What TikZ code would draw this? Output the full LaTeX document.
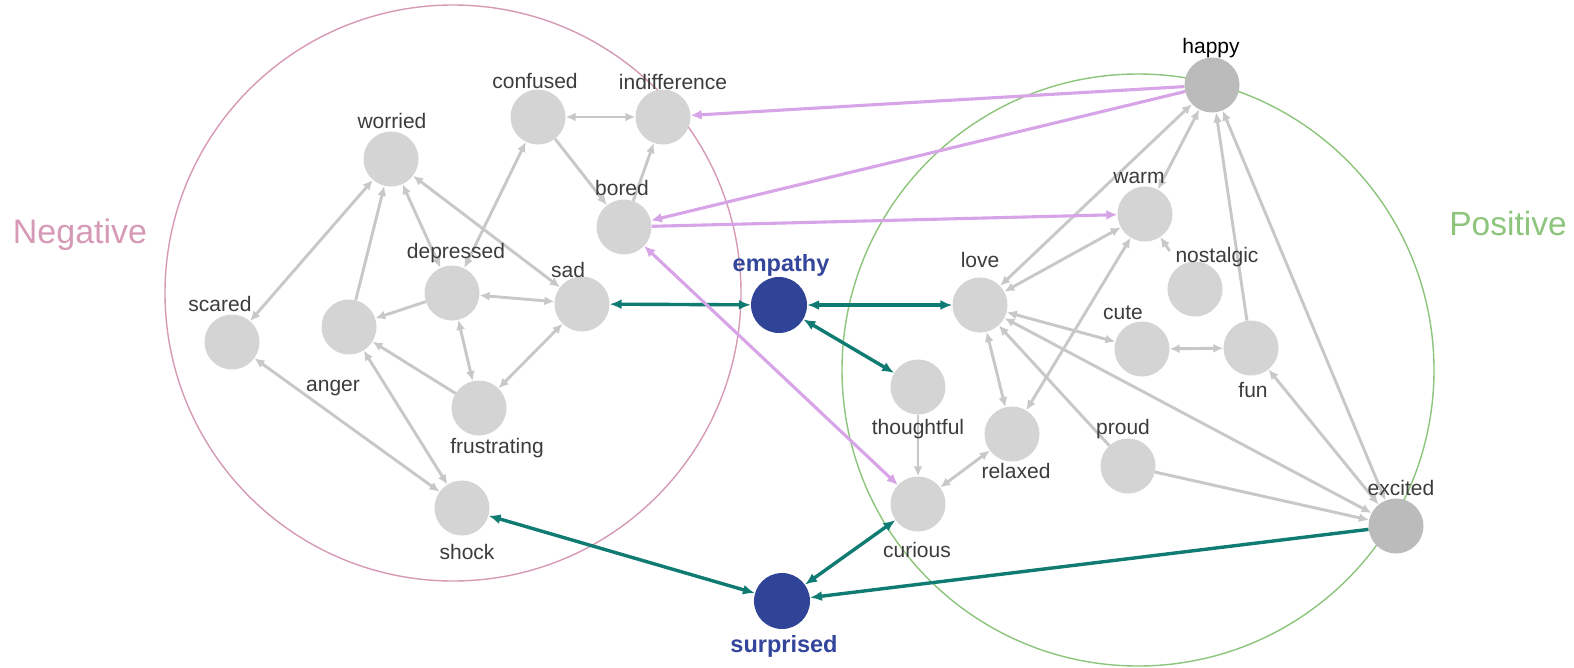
\documentclass[tikz,border=0pt]{standalone}
\usepackage{fontspec}
\setmainfont{Liberation Sans}
\usetikzlibrary{arrows.meta}
\definecolor{nodegray}{HTML}{D4D4D4}
\definecolor{nodedark}{HTML}{BBBBBB}
\definecolor{nodeblue}{HTML}{2F4497}
\definecolor{textblue}{HTML}{34469C}
\definecolor{edgegray}{HTML}{C8C8C8}
\definecolor{edgeteal}{HTML}{0F7B72}
\definecolor{edgeviolet}{HTML}{D7A4E8}
\definecolor{negpink}{HTML}{D69AB6}
\definecolor{posgreen}{HTML}{8CC57B}
\definecolor{lblgray}{HTML}{3C3C3C}
\pgfdeclarelayer{circlesL}
\pgfdeclarelayer{edgesL}
\pgfsetlayers{circlesL,edgesL,main}
\begin{document}
\begin{tikzpicture}[x=1pt,y=-1pt,
  >={Latex[length=10pt,width=9pt]},
  emo/.style={circle,fill=nodegray,minimum size=55pt,inner sep=0pt},
  emodark/.style={emo,fill=nodedark},
  emoblue/.style={circle,fill=nodeblue,minimum size=56pt,inner sep=0pt},
  lbl/.style={anchor=base,font=\fontsize{21}{24}\selectfont,text=lblgray,inner sep=0pt},
  blbl/.style={anchor=base,font=\fontsize{23.5}{26}\selectfont\bfseries,text=textblue,inner sep=0pt},
  ge/.style={draw=edgegray,line width=2.9pt},
  te/.style={draw=edgeteal,line width=3.4pt,>={Latex[length=12pt,width=10pt]}},
  vi/.style={draw=edgeviolet,line width=3.1pt,>={Latex[length=11pt,width=10pt]}},
  group/.style={circle,draw,line width=1.4pt,inner sep=0pt}
]
\useasboundingbox (0,0) rectangle (1574,667);

% group circles
\begin{pgfonlayer}{circlesL}
\fill[white] (0,0) rectangle (1574,667);
\node[group,draw=negpink,minimum size=576pt] (negC) at (453,293) {};
\node[group,draw=posgreen,minimum size=592pt] (posC) at (1138,370) {};
\end{pgfonlayer}
\node[anchor=base,font=\fontsize{34}{38}\selectfont,text=negpink,inner sep=0pt] (negT) at (80,243) {Negative};
\node[anchor=base,font=\fontsize{33.5}{38}\selectfont,text=posgreen,inner sep=0pt] (posT) at (1508,235) {Positive};

% nodes
\node[emodark] (happy) at (1212,85) {};
\node[emo] (confused) at (538,117) {};
\node[emo] (indifference) at (663,117) {};
\node[emo] (worried) at (391,159) {};
\node[emo] (bored) at (624,227) {};
\node[emo] (warm) at (1145,214) {};
\node[emo] (depressed) at (452,293) {};
\node[emo] (sad) at (582,304) {};
\node[emoblue] (empathy) at (779,305) {};
\node[emo] (love) at (980,305) {};
\node[emo] (nostalgic) at (1195,289) {};
\node[emo] (scared) at (232,342) {};
\node[emo] (anger) at (349,327) {};
\node[emo] (cute) at (1142,349) {};
\node[emo] (fun) at (1251,348) {};
\node[emo] (thoughtful) at (918,387) {};
\node[emo] (frustrating) at (479,408) {};
\node[emo] (relaxed) at (1012,434) {};
\node[emo] (proud) at (1128,466) {};
\node[emo] (shock) at (462,508) {};
\node[emo] (curious) at (918,504) {};
\node[emodark] (excited) at (1396,526) {};
\node[emoblue] (surprised) at (782,601) {};

% labels
\node[lbl,text=black] (l-happy) at (1211,53) {happy};
\node[lbl] (l-confused) at (535,88) {confused};
\node[lbl] (l-indifference) at (673,89) {indifference};
\node[lbl] (l-worried) at (392,128) {worried};
\node[lbl] (l-bored) at (622,195) {bored};
\node[lbl] (l-warm) at (1139,183) {warm};
\node[lbl] (l-depressed) at (456,258) {depressed};
\node[lbl] (l-sad) at (568,277) {sad};
\node[blbl] (l-empathy) at (781,271) {empathy};
\node[lbl] (l-love) at (980,267) {love};
\node[lbl] (l-nostalgic) at (1217,262) {nostalgic};
\node[lbl] (l-scared) at (220,311) {scared};
\node[lbl] (l-cute) at (1123,319) {cute};
\node[lbl] (l-anger) at (333,391) {anger};
\node[lbl] (l-fun) at (1253,397) {fun};
\node[lbl] (l-thoughtful) at (918,434) {thoughtful};
\node[lbl] (l-proud) at (1123,434) {proud};
\node[lbl] (l-frustrating) at (497,453) {frustrating};
\node[lbl] (l-relaxed) at (1016,478) {relaxed};
\node[lbl] (l-excited) at (1401,495) {excited};
\node[lbl] (l-curious) at (917,557) {curious};
\node[lbl] (l-shock) at (467,559) {shock};
\node[blbl] (l-surprised) at (784,652) {surprised};

\begin{pgfonlayer}{edgesL}
% negative cluster
\draw[ge,<->] (confused) -- (indifference);
\draw[ge,->] (confused) -- (bored);
\draw[ge,->] (bored) -- (indifference);
\draw[ge,<->] (worried) -- (scared);
\draw[ge,->] (anger) -- (worried);
\draw[ge,<->] (worried) -- (depressed);
\draw[ge,<->] (worried) -- (sad);
\draw[ge,<->] (depressed) -- (confused);
\draw[ge,->] (depressed) -- (anger);
\draw[ge,<->] (depressed) -- (sad);
\draw[ge,<->] (depressed) -- (frustrating);
\draw[ge,->] (frustrating) -- (anger);
\draw[ge,<->] (frustrating) -- (sad);
\draw[ge,<->] (scared) -- (shock);
\draw[ge,<->] (anger) -- (shock);
% positive cluster
\draw[ge,<->] (happy) -- (love);
\draw[ge,<->] (happy) -- (warm);
\draw[ge,<->] (warm) -- (love);
\draw[ge,<->] (relaxed) -- (warm);
\draw[ge,->,shorten <=18pt] (nostalgic) -- (warm);
\draw[ge,->] (fun) -- (happy);
\draw[ge,<->] (excited) -- (happy);
\draw[ge,<->] (love) -- (cute);
\draw[ge,<->] (cute) -- (fun);
\draw[ge,<->] (love) -- (relaxed);
\draw[ge,->] (proud) -- (love);
\draw[ge,<->] (love) -- (excited);
\draw[ge,<->] (fun) -- (excited);
\draw[ge,->] (proud) -- (excited);
\draw[ge,->] (thoughtful) -- (curious);
\draw[ge,<->] (relaxed) -- (curious);
% teal
\draw[te,<->] (sad) -- (empathy);
\draw[te,<->] (empathy) -- (love);
\draw[te,<->] (empathy) -- (thoughtful);
\draw[te,<->] (shock) -- (surprised);
\draw[te,<->] (curious) -- (surprised);
\draw[te,->] (excited) -- (surprised);
% violet
\draw[vi,->] (happy) -- (indifference);
\draw[vi,->] (happy) -- (bored);
\draw[vi,->] (bored) -- (warm);
\draw[vi,<->] (bored) -- (curious);
\end{pgfonlayer}
\end{tikzpicture}
\end{document}
